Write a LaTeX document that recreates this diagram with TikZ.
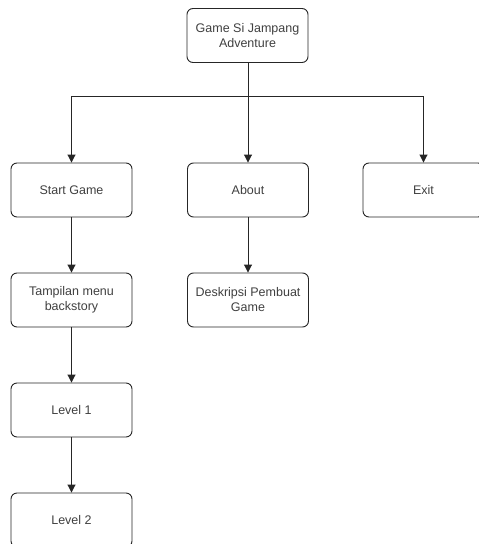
\documentclass[tikz,border=0pt]{standalone}
\usepackage{fontspec}
\setmainfont{Liberation Sans}
\usetikzlibrary{arrows.meta}

\tikzset{
	kotak/.style={draw=black!85, line width=0.9pt, rounded corners=6pt, fill=white,
		minimum width=121pt, minimum height=54pt, align=center, inner sep=2pt,
		text=black!75, font=\fontsize{12.5}{15}\selectfont},
	panah/.style={draw=black!85, line width=0.9pt, -{Triangle[length=8pt,width=8pt]}}
}

\begin{document}
\begin{tikzpicture}[x=1pt, y=-1pt]
	\useasboundingbox (0,0) rectangle (479,544); % Rand wie im Original
	\clip (0,0) rectangle (479,544);
	
	\node[kotak] (game) at (247.5,35.5) {Game Si Jampang\\Adventure};
	
	\node[kotak] (start) at (71.5,190) {Start Game};
	\node[kotak] (about) at (248,190) {About};
	\node[kotak] (exit) at (423.5,190) {Exit};
	
	\node[kotak] (menu) at (71.5,300) {Tampilan menu\\backstory};
	\node[kotak] (deskripsi) at (248,300) {Deskripsi Pembuat\\Game};
	
	\node[kotak] (level1) at (71.5,410) {Level 1};
	\node[kotak] (level2) at (71.5,520) {Level 2};
	
	\coordinate (cabang) at (248,96);
	
	\draw[panah] (game.south -| cabang) -- (about.north);
	\draw[panah] (cabang) -| (start.north);
	\draw[panah] (cabang) -| (exit.north);
	
	\draw[panah] (start) -- (menu);
	\draw[panah] (about) -- (deskripsi);
	\draw[panah] (menu) -- (level1);
	\draw[panah] (level1) -- (level2);
	
	%\draw[help lines, step=20] (0,0) grid (479,544);
\end{tikzpicture}
\end{document}
